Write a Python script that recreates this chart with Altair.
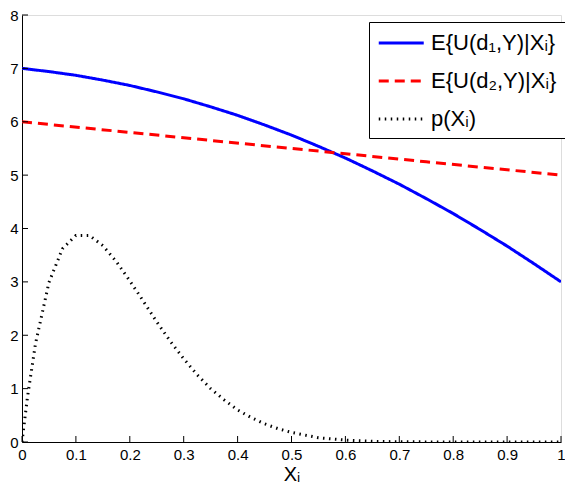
import altair as alt
import pandas as pd

# Series names
names = ["E{U(d₁,Y)|Xᵢ}", "E{U(d₂,Y)|Xᵢ}", "p(Xᵢ)"]

# Blue curve (solid)
x_blue = [0, 0.05, 0.1, 0.15, 0.2, 0.25, 0.3, 0.35, 0.4, 0.45, 0.5,
          0.55, 0.6, 0.65, 0.7, 0.75, 0.8, 0.85, 0.9, 0.95, 1.0]
y_blue = [7.0, 6.94, 6.87, 6.78, 6.68, 6.56, 6.43, 6.28, 6.12, 5.94, 5.75,
          5.54, 5.32, 5.08, 4.83, 4.56, 4.28, 3.98, 3.67, 3.34, 3.0]

# Red dashed line
x_red = [0, 0.25, 0.5, 0.75, 1.0]
y_red = [6.0, 5.75, 5.5, 5.25, 5.0]

# Dotted density
x_p = [0, 0.01, 0.025, 0.05, 0.075, 0.1, 0.125, 0.15, 0.175, 0.2, 0.225, 0.25,
       0.275, 0.3, 0.325, 0.35, 0.375, 0.4, 0.425, 0.45, 0.475, 0.5, 0.55,
       0.6, 0.65, 0.7, 0.8, 0.9, 1.0]
y_p = [0, 0.83, 1.84, 2.99, 3.62, 3.87, 3.87, 3.68, 3.38, 3.02, 2.64, 2.25,
       1.89, 1.56, 1.26, 1.0, 0.79, 0.6, 0.46, 0.34, 0.25, 0.18, 0.08,
       0.035, 0.013, 0.004, 0.0, 0.0, 0.0]

x_ticks = [0, 0.1, 0.2, 0.3, 0.4, 0.5, 0.6, 0.7, 0.8, 0.9, 1]
y_ticks = [0, 1, 2, 3, 4, 5, 6, 7, 8]

rows = []
for xs, ys, n in [(x_blue, y_blue, names[0]), (x_red, y_red, names[1]), (x_p, y_p, names[2])]:
    for i, (a, b) in enumerate(zip(xs, ys)):
        rows.append({"x": a, "y": b, "series": n, "i": i})
df = pd.DataFrame(rows)

W, H = 539, 427
FONT = "Liberation Sans"

xscale = alt.Scale(domain=[0, 1], nice=False, zero=False)
yscale = alt.Scale(domain=[0, 8], nice=False)
xaxis = alt.Axis(values=x_ticks, format="~g", ticks=False, grid=False,
                 title="Xᵢ", titleFontSize=20, titleFontWeight="normal",
                 titleFont=FONT, titlePadding=2, labelFont=FONT,
                 labelFontSize=15, labelColor="black", labelPadding=5,
                 domainColor="black", titleColor="black", labelFlush=False)
yaxis = alt.Axis(values=y_ticks, ticks=False, grid=False, title=None,
                 labelFont=FONT, labelFontSize=15, labelColor="black",
                 labelPadding=4, domainColor="black")

lines = alt.Chart(df).mark_line(clip=True).encode(
    x=alt.X("x:Q", scale=xscale, axis=xaxis, title="Xᵢ"),
    y=alt.Y("y:Q", scale=yscale, axis=yaxis, title=None),
    color=alt.Color("series:N", title=None,
                    scale=alt.Scale(domain=names, range=["#0000ff", "#ff0000", "#000000"]),
                    sort=names,
                    legend=alt.Legend(orient="none", legendX=347, legendY=7,
                                      labelFont=FONT, labelFontSize=22, labelColor="black",
                                      symbolSize=506, symbolType="M-1,0L3,0",
                                      fillColor="white", strokeColor="black",
                                      padding=8, rowPadding=14, labelOffset=28,
                                      labelLimit=300)),
    strokeDash=alt.StrokeDash("series:N", title=None, sort=names,
                              scale=alt.Scale(domain=names, range=[[1, 0], [10, 6], [1.5, 4.5]])),
    strokeWidth=alt.StrokeWidth("series:N", title=None, sort=names,
                                scale=alt.Scale(domain=names, range=[3, 3, 1])),
    order="i:Q",
)

xt = alt.Chart(pd.DataFrame({"v": x_ticks})).mark_rule(color="black", strokeWidth=1).encode(
    x=alt.X("v:Q", scale=xscale, axis=xaxis, title="Xᵢ"), y=alt.value(H), y2=alt.value(H - 6))
yt = alt.Chart(pd.DataFrame({"v": y_ticks})).mark_rule(color="black", strokeWidth=1).encode(
    y=alt.Y("v:Q", scale=yscale, axis=yaxis, title=None), x=alt.value(0), x2=alt.value(6))

chart = alt.layer(lines, xt, yt).properties(
    width=W, height=H,
    autosize=alt.AutoSizeParams(type="none"),
    padding={"left": 14, "top": 7, "right": 4, "bottom": 43},
).configure_view(stroke=None).configure(background="white")

chart.save("out.html", embed_options={"renderer": "svg", "actions": False})
